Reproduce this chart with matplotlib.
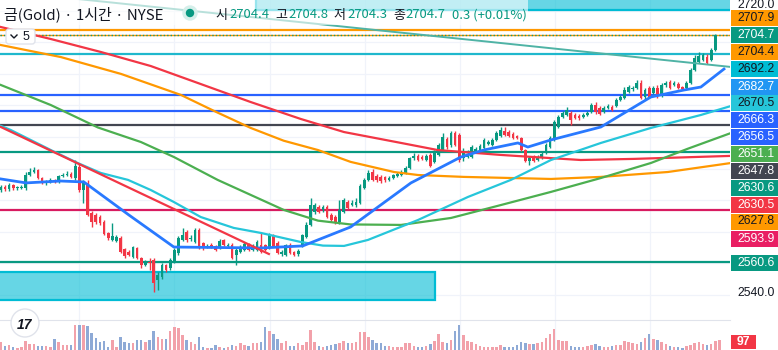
import numpy as np
import matplotlib.pyplot as plt
from matplotlib.patches import Rectangle, FancyBboxPatch, Circle

# ---------------------------------------------------------------------------
# Gold 1h candles (oldest first)
opens = [2606.4, 2608.3, 2607.1, 2609.6, 2607.7, 2607.7, 2607.7, 2615.9, 2617.8, 2619.1,
         2614.0, 2610.9, 2611.5, 2612.8, 2611.5, 2615.3, 2615.9, 2616.6, 2614.0, 2621.0,
         2606.4, 2610.9, 2591.9, 2590.6, 2589.3, 2586.2, 2579.2, 2574.8, 2574.1, 2576.0,
         2569.1, 2567.2, 2564.0, 2569.7, 2563.4, 2559.0, 2560.9, 2562.1, 2549.5, 2551.4,
         2559.0, 2557.1, 2560.9, 2566.6, 2574.8, 2579.8, 2575.4, 2573.5, 2581.1, 2572.9,
         2570.3, 2571.6, 2571.0, 2569.7, 2574.8, 2571.0, 2571.6, 2565.3, 2567.2, 2568.4,
         2571.6, 2568.4, 2568.4, 2571.6, 2571.6, 2569.7, 2577.3, 2572.9, 2565.9, 2565.3,
         2571.6, 2567.2, 2565.9, 2571.0, 2576.7, 2584.3, 2592.5, 2595.7, 2593.8, 2595.7,
         2590.6, 2589.3, 2586.2, 2592.5, 2598.8, 2596.9, 2596.9, 2598.2, 2607.7, 2612.8,
         2617.8, 2615.3, 2614.7, 2614.7, 2612.8, 2614.0, 2615.3, 2615.9, 2617.2, 2620.4,
         2626.7, 2628.0, 2627.3, 2625.4, 2628.6, 2624.2, 2628.6, 2631.7, 2638.7, 2634.9,
         2642.5, 2641.2, 2626.7, 2627.3, 2627.3, 2631.1, 2631.7, 2633.0, 2635.5, 2634.9,
         2638.1, 2640.6, 2643.8, 2643.1, 2641.9, 2640.6, 2639.3, 2631.7, 2624.8, 2627.3,
         2625.4, 2626.7, 2629.9, 2633.6, 2638.1, 2646.3, 2652.6, 2653.9, 2655.2, 2653.9,
         2653.3, 2652.6, 2653.9, 2655.8, 2660.2, 2658.3, 2655.8, 2658.3, 2659.0, 2659.6,
         2663.4, 2664.7, 2668.5, 2670.4, 2671.0, 2674.2, 2665.3, 2671.0, 2667.8, 2671.0,
         2666.6, 2672.9, 2674.8, 2672.9, 2673.5, 2671.6, 2671.0, 2674.2, 2682.4, 2687.5,
         2688.7, 2690.6, 2688.7, 2695.0, 2704.4]
highs = [2609.6, 2609.6, 2610.9, 2610.2, 2609.0, 2609.6, 2617.8, 2620.4, 2621.0, 2619.7,
         2614.7, 2612.8, 2614.0, 2613.4, 2615.9, 2617.2, 2618.5, 2617.8, 2625.4, 2623.5,
         2612.8, 2612.8, 2593.1, 2591.9, 2590.6, 2587.4, 2579.8, 2585.5, 2577.9, 2577.3,
         2569.7, 2568.4, 2571.0, 2570.3, 2564.0, 2562.1, 2563.4, 2563.4, 2554.5, 2560.2,
         2559.6, 2563.4, 2569.7, 2577.3, 2582.4, 2581.1, 2577.9, 2582.4, 2582.4, 2573.5,
         2572.2, 2572.9, 2571.6, 2575.4, 2575.4, 2572.9, 2572.9, 2569.7, 2571.6, 2573.5,
         2572.9, 2572.2, 2574.8, 2579.8, 2572.2, 2579.2, 2578.6, 2574.1, 2568.4, 2572.2,
         2572.9, 2567.8, 2569.1, 2578.6, 2586.2, 2601.4, 2598.2, 2596.9, 2596.9, 2596.9,
         2591.9, 2590.6, 2600.1, 2601.4, 2600.1, 2600.1, 2601.4, 2610.2, 2614.0, 2619.1,
         2619.7, 2616.6, 2615.9, 2615.3, 2615.3, 2616.6, 2617.8, 2619.1, 2621.6, 2627.3,
         2629.9, 2629.2, 2628.6, 2629.2, 2629.9, 2631.7, 2636.2, 2642.5, 2640.0, 2643.8,
         2643.8, 2642.5, 2633.0, 2631.7, 2634.9, 2633.6, 2635.5, 2639.3, 2638.1, 2639.3,
         2643.8, 2646.3, 2646.3, 2644.4, 2643.1, 2641.2, 2640.0, 2632.4, 2628.0, 2628.6,
         2628.6, 2630.5, 2636.2, 2640.6, 2650.7, 2653.9, 2656.4, 2659.0, 2656.4, 2655.2,
         2654.5, 2655.2, 2656.4, 2661.5, 2662.1, 2659.6, 2659.6, 2660.9, 2660.2, 2664.7,
         2666.6, 2671.6, 2672.9, 2672.3, 2676.1, 2676.1, 2671.0, 2672.3, 2672.3, 2672.9,
         2674.2, 2675.4, 2676.1, 2675.4, 2674.8, 2672.3, 2675.4, 2683.7, 2691.9, 2693.8,
         2693.2, 2692.5, 2696.3, 2705.2, 2704.8]
lows = [2605.2, 2605.8, 2605.8, 2606.4, 2606.4, 2607.1, 2606.4, 2615.3, 2617.2, 2613.4,
        2610.2, 2609.6, 2610.9, 2610.9, 2610.9, 2614.7, 2615.3, 2614.0, 2612.8, 2605.2,
        2598.2, 2590.0, 2583.0, 2584.9, 2584.3, 2577.9, 2574.8, 2574.1, 2573.5, 2566.6,
        2563.4, 2564.7, 2563.4, 2562.8, 2557.1, 2558.3, 2555.8, 2541.9, 2543.1, 2550.1,
        2554.5, 2555.8, 2560.2, 2565.3, 2574.1, 2573.5, 2574.1, 2572.9, 2569.1, 2568.4,
        2569.7, 2569.7, 2567.8, 2569.1, 2571.0, 2570.3, 2562.8, 2559.0, 2566.6, 2567.8,
        2567.8, 2567.8, 2567.8, 2566.6, 2567.8, 2569.1, 2570.3, 2565.9, 2564.7, 2564.7,
        2565.9, 2564.7, 2564.7, 2570.3, 2576.0, 2583.6, 2591.2, 2591.9, 2592.5, 2588.7,
        2586.2, 2584.9, 2584.9, 2591.9, 2594.4, 2596.3, 2595.7, 2597.6, 2607.1, 2612.1,
        2612.1, 2611.5, 2610.9, 2611.5, 2612.1, 2613.4, 2614.7, 2615.3, 2616.6, 2619.7,
        2625.4, 2624.8, 2625.4, 2624.8, 2621.0, 2623.5, 2628.0, 2630.5, 2632.4, 2633.6,
        2634.3, 2624.2, 2624.8, 2626.7, 2626.7, 2630.5, 2631.1, 2632.4, 2634.9, 2634.3,
        2637.4, 2640.0, 2640.6, 2640.0, 2638.7, 2638.7, 2631.1, 2624.2, 2622.3, 2624.2,
        2624.8, 2626.1, 2629.2, 2633.0, 2637.4, 2645.7, 2652.0, 2653.3, 2647.6, 2651.4,
        2650.7, 2652.0, 2653.3, 2655.2, 2654.5, 2653.9, 2655.2, 2657.7, 2656.4, 2659.0,
        2662.8, 2664.0, 2667.8, 2669.1, 2670.4, 2664.0, 2664.0, 2664.7, 2667.2, 2664.7,
        2665.3, 2671.6, 2670.4, 2672.3, 2670.4, 2669.7, 2670.4, 2673.5, 2681.8, 2686.8,
        2688.1, 2686.2, 2688.1, 2694.4, 2704.3]
closes = [2608.3, 2607.1, 2609.6, 2607.7, 2607.9, 2608.3, 2615.9, 2617.8, 2619.1, 2614.0,
          2610.9, 2611.5, 2612.8, 2611.5, 2615.3, 2615.9, 2616.6, 2614.7, 2621.6, 2606.4,
          2611.5, 2590.6, 2586.2, 2586.2, 2585.5, 2578.6, 2576.0, 2577.3, 2576.7, 2567.2,
          2564.7, 2565.3, 2570.3, 2563.4, 2559.0, 2560.9, 2560.2, 2547.6, 2552.6, 2559.0,
          2555.8, 2562.1, 2568.4, 2576.0, 2577.9, 2574.8, 2576.0, 2581.1, 2569.7, 2569.7,
          2571.0, 2570.3, 2568.4, 2574.1, 2571.6, 2571.6, 2563.4, 2568.4, 2570.3, 2572.2,
          2568.4, 2570.3, 2573.5, 2567.2, 2568.4, 2577.9, 2571.0, 2566.6, 2567.2, 2571.6,
          2566.6, 2565.3, 2567.8, 2577.9, 2584.3, 2596.9, 2596.9, 2592.5, 2595.7, 2589.3,
          2587.4, 2585.5, 2593.8, 2600.1, 2595.0, 2598.2, 2598.8, 2609.0, 2612.8, 2617.2,
          2612.8, 2612.8, 2612.1, 2612.8, 2614.0, 2615.9, 2616.6, 2617.8, 2620.4, 2626.7,
          2628.0, 2625.4, 2626.1, 2628.0, 2621.6, 2630.5, 2634.9, 2640.0, 2633.6, 2642.5,
          2634.9, 2625.4, 2630.5, 2629.2, 2633.6, 2632.4, 2634.3, 2638.1, 2636.8, 2638.1,
          2642.5, 2644.4, 2641.2, 2640.6, 2639.3, 2639.3, 2631.7, 2624.8, 2626.7, 2624.8,
          2627.3, 2629.2, 2634.9, 2639.3, 2649.5, 2652.6, 2655.2, 2657.1, 2650.7, 2652.0,
          2652.0, 2653.9, 2655.2, 2660.2, 2655.8, 2654.5, 2658.3, 2659.6, 2657.1, 2663.4,
          2665.3, 2669.7, 2671.6, 2671.0, 2674.2, 2664.7, 2669.7, 2665.3, 2671.0, 2665.9,
          2672.9, 2674.2, 2671.0, 2674.2, 2671.0, 2670.4, 2674.2, 2682.4, 2690.0, 2691.3,
          2691.9, 2686.8, 2695.0, 2704.4, 2704.7]
volumes = [78, 39, 49, 29, 19, 29, 87, 58, 58, 39,
           39, 39, 29, 107, 78, 49, 49, 49, 243, 243,
           243, 233, 165, 116, 78, 87, 29, 97, 29, 126,
           78, 68, 68, 97, 97, 78, 97, 184, 126, 107,
           107, 184, 223, 213, 146, 97, 78, 58, 126, 29,
           19, 19, 49, 29, 19, 29, 49, 39, 68, 49,
           39, 68, 68, 78, 223, 184, 155, 107, 68, 87,
           39, 39, 68, 49, 78, 194, 78, 39, 29, 39,
           49, 58, 68, 87, 68, 68, 78, 175, 175, 126,
           97, 68, 68, 39, 39, 29, 29, 29, 68, 68,
           39, 29, 29, 39, 58, 87, 155, 78, 68, 97,
           184, 243, 146, 87, 78, 58, 39, 29, 29, 29,
           29, 49, 29, 29, 29, 49, 78, 68, 58, 58,
           68, 78, 116, 155, 204, 97, 87, 87, 39, 29,
           29, 29, 39, 49, 58, 39, 29, 29, 39, 49,
           49, 87, 78, 68, 58, 78, 116, 155, 107, 97,
           78, 58, 39, 29, 29, 19, 39, 49, 68, 78,
           58, 49, 58, 87, 97]

# moving averages / indicator lines (bar index, price)
red_ma_x = [0, 12.1, 24.2, 36.3, 48.4, 60.5, 72.6, 83.1, 96.9, 105.8, 121.1, 140.4, 153.3, 176.8]
red_ma_y = [2709.6, 2702.0, 2693.8, 2684.9, 2673.5, 2662.1, 2651.4, 2643.1, 2636.2, 2631.7,
            2628.6, 2625.4, 2626.1, 2628.0]
orange_ma_x = [0, 14.5, 29.1, 43.6, 52.0, 60.5, 68.5, 76.8, 84.7, 95.2, 101.0, 112.1, 133.2,
               145.3, 161.5, 176.8]
orange_ma_y = [2698.2, 2690.6, 2679.9, 2666.6, 2656.0, 2645.7, 2637.6, 2631.7, 2624.2, 2617.8,
               2615.9, 2614.7, 2613.4, 2614.7, 2617.8, 2623.5]
green_ma_x = [0, 12.1, 23.5, 33.9, 41.9, 52.5, 60.5, 68.5, 76.8, 84.7, 96.9, 109.0, 121.1,
              133.2, 145.3, 157.4, 166.3, 176.8]
green_ma_y = [2672.9, 2660.2, 2646.0, 2636.8, 2627.3, 2612.8, 2603.3, 2593.8, 2587.0, 2584.6,
              2584.3, 2588.7, 2596.9, 2605.2, 2614.0, 2623.5, 2632.5, 2642.5]
cyan_ma_x = [0, 2.4, 12.1, 18.6, 24.2, 30.8, 36.3, 41.9, 48.4, 56.4, 63.0, 72.6, 78.0, 83.1, 88.9,
             101.0, 113.1, 123.5, 133.2, 145.3, 157.4, 169.5, 176.8]
cyan_ma_y = [2647.0, 2644.4, 2631.7, 2623.5, 2617.2, 2612.8, 2606.4, 2598.8, 2589.3, 2582.4,
             2579.2, 2573.5, 2571.2, 2571.0, 2574.8, 2587.4, 2602.0, 2612.8, 2625.4, 2636.2,
             2645.7, 2653.9, 2659.6]
trail_x = [0, 6.1, 14.5, 20.1, 31.0, 41.9, 63.0, 73.1, 84.7, 99.3, 111.4, 116.9, 125.2, 127.6,
           133.2, 145.3, 157.4, 165.4, 169.5, 175.1]
trail_y = [2613.4, 2610.9, 2612.1, 2611.5, 2590.6, 2570.3, 2569.7, 2571.0, 2583.0, 2610.9,
           2627.3, 2631.7, 2636.2, 2633.6, 2638.1, 2646.3, 2665.3, 2669.7, 2671.6, 2683.0]

# drawings
teal_trend_x = [0, 176.8]
teal_trend_y = [2732.4, 2684.3]
red_trend_x = [0, 64.9]
red_trend_y = [2646.3, 2565.9]
level_prices = [2707.9, 2692.2, 2666.3, 2656.5, 2647.8, 2630.6, 2593.9, 2560.6]
level_colors = ['#ff9800', '#1fb8cd', '#2962ff', '#2962ff', '#434651', '#089981', '#d81b60', '#089981']
zone_low = (2536.8, 2554.5, 105.1)    # bottom, top, right edge (bar index)
zone_high = (2720.4, 2760.0, 61.7)    # bottom, top, left edge (bar index)

# price scale tags
tag_text = ['2707.9', '2704.7', '2704.4', '2692.2', '2682.7', '2670.5', '2666.3', '2656.5',
            '2651.1', '2647.8', '2630.6', '2630.5', '2627.8', '2593.9', '2560.6']
tag_bg = ['#ff9800', '#089981', '#ff9800', '#00bcd4', '#2196f3', '#26c6da', '#2962ff', '#2962ff',
          '#4caf50', '#434651', '#089981', '#f23645', '#ff9800', '#e91e63', '#089981']
tag_fg = ['#131722', 'white', '#131722', '#131722', 'white', '#131722', 'white', 'white',
          'white', 'white', 'white', 'white', '#131722', 'white', 'white']

title = '금(Gold) · 1시간 · NYSE'
ohlc_names = ['시', '고', '저', '종']
ohlc_vals = ['2704.4', '2704.8', '2704.3', '2704.7']
change_txt = '0.3 (+0.01%)'
last_volume = '97'

# ---------------------------------------------------------------------------
W, H = 778, 350
PX = 4.13          # pixels per bar
CJK = ['Noto Sans CJK KR', 'DejaVu Sans']
NUM = 'Liberation Sans'

fig = plt.figure(figsize=(W / 100, H / 100), dpi=100)


def px_axes(x0, y0, x1, y1, **kw):
    return fig.add_axes([x0 / W, 1 - y1 / H, (x1 - x0) / W, (y1 - y0) / H], **kw)


ax = px_axes(0, 0, 730, 320)
vax = px_axes(0, 320, 730, 350)
ui = fig.add_axes([0, 0, 1, 1], zorder=10)
ui.set_xlim(0, W)
ui.set_ylim(H, 0)
ui.axis('off')

n = len(closes)
idx = np.arange(n)
x_lo = -0.2
x_hi = x_lo + 730 / PX
for a in (ax, vax):
    a.set_xlim(x_lo, x_hi)
    a.set_xticks([])
    a.set_yticks([])
    for s in a.spines.values():
        s.set_visible(False)
ax.set_ylim(2524.1, 2726.7)
vax.set_ylim(0, 291)
vax.spines['top'].set_visible(True)
vax.spines['top'].set_color('#e0e3eb')

# grid
for p in range(2540, 2721, 20):
    ax.axhline(p, color='#f0f3fa', lw=0.9, zorder=0)
for g in [18.9, 42.0, 65.1, 88.1, 111.1, 134.2, 157.2]:
    ax.axvline(g, color='#f0f3fa', lw=0.9, zorder=0)
    vax.axvline(g, color='#f0f3fa', lw=0.9, zorder=0)

# zones
ax.add_patch(Rectangle((x_lo - 5, zone_low[0]), zone_low[2] - (x_lo - 5), zone_low[1] - zone_low[0],
                       fc=(0, 0.737, 0.831, 0.6), ec='#00bcd4', lw=1.6, zorder=1))
ax.add_patch(Rectangle((zone_high[2], zone_high[0]), x_hi + 5 - zone_high[2], zone_high[1] - zone_high[0],
                       fc=(0, 0.737, 0.831, 0.6), ec='#00bcd4', lw=1.6, zorder=1))

# horizontal levels
for p, c in zip(level_prices, level_colors):
    ax.axhline(p, color=c, lw=1.6, zorder=2)
ax.axhline(2704.4, color='#ff9800', lw=1.0, zorder=2)
ax.axhline(2704.7, color='#089981', lw=1.0, ls=(0, (1, 1.5)), zorder=2)

# candles
o, h, l, c = (np.array(v) for v in (opens, highs, lows, closes))
up = c >= o
col = np.where(up, '#089981', '#f23645')
ax.vlines(idx, l, h, colors=col, lw=1.0, zorder=4)
ax.bar(idx, np.maximum(np.abs(c - o), 0.4), bottom=np.minimum(o, c), width=0.66,
       color=col, linewidth=0, zorder=4)

# volume
vcol = np.where(up, '#f2a1aa', '#8eaad6')
vax.bar(idx, volumes, width=0.6, color=vcol, linewidth=0)

# indicator lines
ax.plot(red_ma_x, red_ma_y, color='#f23645', lw=1.6, zorder=5)
ax.plot(orange_ma_x, orange_ma_y, color='#ff9800', lw=1.6, zorder=5)
ax.plot(green_ma_x, green_ma_y, color='#4caf50', lw=1.6, zorder=5)
ax.plot(cyan_ma_x, cyan_ma_y, color='#26c6da', lw=1.6, zorder=5)
ax.plot(trail_x, trail_y, color='#2979ff', lw=2.0, zorder=5)
ax.plot(teal_trend_x, teal_trend_y, color='#4fb3a5', lw=1.4, zorder=5)
ax.plot(red_trend_x, red_trend_y, color='#f23645', lw=1.6, zorder=5)

# ---- UI overlay (pixel coordinates) ----
ui.add_patch(Rectangle((0, 0), 528, 25, fc='white', alpha=0.6, lw=0))
ui.text(4, 14, title, fontsize=10.8, color='#131722', family=CJK, ha='left', va='center')
ui.add_patch(Circle((190, 13), 7, color='#d5efea'))
ui.add_patch(Circle((190, 13), 3.5, color='#089981'))
for name, val, xn, xv in zip(ohlc_names, ohlc_vals, [215, 275, 333, 393], [229, 288, 347, 405]):
    ui.text(xn, 15, name, fontsize=9.4, color='#131722', family=CJK, ha='left', va='center')
    ui.text(xv, 15, val, fontsize=9.4, color='#089981', family=CJK, ha='left', va='center')
ui.text(452, 15, change_txt, fontsize=9.4, color='#089981', family=CJK, ha='left', va='center')

ui.add_patch(FancyBboxPatch((6, 29), 29, 15, boxstyle='round,pad=0,rounding_size=3',
                            fc='white', ec='#e0e3eb', lw=1))
ui.plot([11, 14, 17], [35, 38, 35], color='#131722', lw=1)
ui.text(26, 37, '5', fontsize=9, color='#131722', family=NUM, ha='center', va='center')

ui.add_patch(Circle((25, 323), 14, fc='white', ec='#e0e3eb', lw=1))
ui.text(25, 325, '17', fontsize=10, color='#131722', family=NUM, weight='bold',
        style='italic', ha='center', va='center')

# price scale
ui.text(756, 5, '2720.0', fontsize=8.8, color='#131722', family=NUM, ha='center', va='center')
tag_y = [18, 35, 52, 69, 86.5, 103, 120, 137, 154, 171, 188, 204.5, 221.5, 239, 263]
for t, yc, bg, fg in zip(tag_text, tag_y, tag_bg, tag_fg):
    ui.add_patch(Rectangle((731, yc - 8), 47, 16, color=bg, lw=0))
    ui.text(756, yc, t, fontsize=8.8, color=fg, family=NUM, ha='center', va='center')
ui.text(756, 293.5, '2540.0', fontsize=8.8, color='#131722', family=NUM, ha='center', va='center')
ui.add_patch(Rectangle((731, 335), 25, 14, color='#f23645', lw=0))
ui.text(743.5, 342, last_volume, fontsize=8.8, color='white', family=NUM, weight='bold',
        ha='center', va='center')

fig.savefig('out.png', dpi=100)
